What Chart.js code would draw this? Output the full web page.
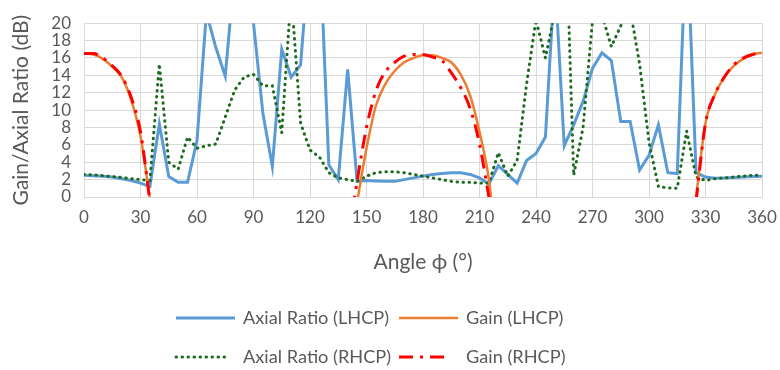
<!DOCTYPE html>
<html>
<head>
<meta charset="utf-8">
<script src="https://cdn.jsdelivr.net/npm/chart.js@4.4.1/dist/chart.umd.min.js"></script>
<style>
  body { margin: 0; background: #fff; }
</style>
</head>
<body>
<canvas id="arChart" width="780" height="370"></canvas>
<script>
// angle phi, 5 degree steps
const angles = [
  0, 5, 10, 15, 20, 25, 30, 35, 40, 45, 50, 55,
  60, 65, 70, 75, 80, 85, 90, 95, 100, 105, 110, 115,
  120, 125, 130, 135, 140, 145, 150, 155, 160, 165, 170, 175,
  180, 185, 190, 195, 200, 205, 210, 215, 220, 225, 230, 235,
  240, 245, 250, 255, 260, 265, 270, 275, 280, 285, 290, 295,
  300, 305, 310, 315, 320, 325, 330, 335, 340, 345, 350, 355,
  360
];

const arLHCP = [
  2.5, 2.45, 2.4, 2.3, 2.1, 1.9, 1.6, 1.2, 8.4, 2.35, 1.7, 1.7,
  6.5, 21.2, 17.2, 13.9, 26, 30, 20, 9.6, 3.5, 17, 13.8, 15.2,
  29, 30, 3.7, 2.0, 14.7, 1.8, 1.9, 1.85, 1.8, 1.8, 2.0, 2.2,
  2.4, 2.6, 2.7, 2.8, 2.8, 2.6, 2.2, 1.5, 3.6, 2.6, 1.6, 4.2,
  5.0, 6.9, 25.5, 5.9, 8.3, 11.0, 14.8, 16.6, 15.7, 8.7, 8.7, 3.1,
  4.8, 8.3, 2.8, 2.7, 31, 2.8, 2.3, 2.15, 2.2, 2.25, 2.3, 2.35,
  2.4
];

const gainLHCP = [
  16.5, 16.4, 15.9, 15.0, 13.8, 11.2, 7.0, -0.2, null, null, null, null,
  null, null, null, null, null, null, null, null, null, null, null, null,
  null, null, null, null, null, -0.6, 5.6, 10.5, 13.0, 14.5, 15.5, 16.0,
  16.3, 16.3, 16.0, 15.5, 14.1, 11.7, 7.5, 2.0, -8, null, null, null,
  null, null, null, null, null, null, null, null, null, null, null, null,
  null, null, null, null, null, 0, 8.5, 11.8, 13.8, 15.1, 15.9, 16.4,
  16.6
];

const arRHCP = [
  2.6, 2.55, 2.45, 2.35, 2.25, 2.1, 2.0, 1.9, 15.3, 4.0, 3.2, 6.9,
  5.6, 5.9, 6.1, 9.2, 12.3, 13.8, 14.1, 12.8, 12.8, 7.4, 23.5, 8.5,
  5.4, 4.6, 2.8, 2.2, 2.0, 1.8, 2.4, 2.8, 2.9, 2.9, 2.8, 2.6,
  2.4, 2.2, 2.0, 1.8, 1.7, 1.7, 1.6, 1.6, 5.1, 2.4, 4.2, 13.0,
  20.4, 16.0, 21.3, 37, 2.5, 8.0, 20.3, 21, 17.3, 19.7, 21.6, 15.3,
  6.3, 1.2, 1.05, 1.0, 7.6, 2.3, 1.9, 2.1, 2.2, 2.3, 2.4, 2.5,
  2.5
];

const gainRHCP = [
  16.5, 16.5, 16.0, 15.1, 13.9, 11.5, 7.5, -0.5, null, null, null, null,
  null, null, null, null, null, null, null, null, null, null, null, null,
  null, null, null, null, -5, 1.8, 8.0, 12.2, 14.4, 15.5, 16.2, 16.4,
  16.4, 16.1, 15.7, 14.3, 12.6, 10.2, 6.1, 0, null, null, null, null,
  null, null, null, null, null, null, null, null, null, null, null, null,
  null, null, null, null, null, -0.5, 8.5, 11.8, 13.8, 15.2, 16.0, 16.4,
  16.6
];

const xTicks = [0, 30, 60, 90, 120, 150, 180, 210, 240, 270, 300, 330, 360];
const yTicks = [0, 2, 4, 6, 8, 10, 12, 14, 16, 18, 20];

const seriesNames = ['Axial Ratio (LHCP)', 'Gain (LHCP)', 'Axial Ratio (RHCP)', 'Gain (RHCP)'];

function pts(arr) {
  return angles.map((a, i) => ({ x: a, y: arr[i] }));
}

const textGray = '#595959';
const gridGray = '#d9d9d9';
const fontFamily = 'Lato, "Open Sans", sans-serif';

// legend laid out in two rows of two, like the original figure
const twoRowLegend = {
  id: 'twoRowLegend',
  afterDraw(chart) {
    const ctx = chart.ctx;
    const cols = [176, 399];
    const rows = [318, 357];
    const sampleLen = [59, 59, 54, 48];
    ctx.save();
    ctx.font = '18.2px ' + fontFamily;
    ctx.textBaseline = 'middle';
    ctx.textAlign = 'left';
    chart.data.datasets.forEach((ds, i) => {
      const x = cols[i % 2];
      const y = rows[Math.floor(i / 2)];
      ctx.beginPath();
      ctx.strokeStyle = ds.borderColor;
      ctx.lineWidth = ds.borderWidth;
      ctx.lineCap = ds.borderCapStyle || 'butt';
      ctx.setLineDash(ds.borderDash || []);
      ctx.moveTo(x, y);
      ctx.lineTo(x + sampleLen[i], y);
      ctx.stroke();
      ctx.setLineDash([]);
      ctx.fillStyle = textGray;
      ctx.fillText(ds.label, x + 67, y);
    });
    ctx.restore();
  }
};

new Chart(document.getElementById('arChart'), {
  type: 'line',
  data: {
    datasets: [
      {
        label: seriesNames[0],
        data: pts(arLHCP),
        borderColor: '#5b9bd5',
        borderWidth: 3,
        pointRadius: 0,
        order: 3
      },
      {
        label: seriesNames[1],
        data: pts(gainLHCP),
        borderColor: '#ed7d31',
        borderWidth: 2.5,
        pointRadius: 0,
        cubicInterpolationMode: 'monotone',
        order: 1
      },
      {
        label: seriesNames[2],
        data: pts(arRHCP),
        borderColor: '#1e6a1e',
        borderWidth: 3,
        borderDash: [0.5, 5.5],
        borderCapStyle: 'round',
        pointRadius: 0,
        order: 2
      },
      {
        label: seriesNames[3],
        data: pts(gainRHCP),
        borderColor: '#ff0000',
        borderWidth: 3,
        borderDash: [14, 7, 3, 7],
        pointRadius: 0,
        cubicInterpolationMode: 'monotone',
        order: 0
      }
    ]
  },
  options: {
    responsive: false,
    animation: false,
    layout: {
      padding: { top: 16, right: 18, bottom: 91, left: 0 }
    },
    plugins: {
      legend: { display: false },
      tooltip: { enabled: false }
    },
    scales: {
      x: {
        type: 'linear',
        min: 0,
        max: 360,
        afterBuildTicks: s => { s.ticks = xTicks.map(v => ({ value: v })); },
        afterFit: s => {
          s.height = 82;
          s.paddingLeft = 0;
          s.paddingRight = 0;
        },
        grid: { color: gridGray, drawTicks: false },
        border: { color: gridGray },
        ticks: {
          autoSkip: false,
          maxRotation: 0,
          padding: 10,
          color: textGray,
          font: { family: fontFamily, size: 17 }
        },
        title: {
          display: true,
          text: 'Angle ϕ (°)',
          color: textGray,
          padding: { top: 4, bottom: 4 },
          font: { family: fontFamily, size: 21 }
        }
      },
      y: {
        min: 0,
        max: 20,
        afterBuildTicks: s => { s.ticks = yTicks.map(v => ({ value: v })); },
        afterFit: s => { s.width = 84; },
        grid: { color: gridGray, drawTicks: false },
        border: { color: gridGray },
        ticks: {
          autoSkip: false,
          padding: 13,
          color: textGray,
          font: { family: fontFamily, size: 17 }
        },
        title: {
          display: true,
          text: 'Gain/Axial Ratio (dB)',
          color: textGray,
          padding: { top: 9, bottom: 4 },
          font: { family: fontFamily, size: 21 }
        }
      }
    }
  },
  plugins: [twoRowLegend]
});
</script>
</body>
</html>
